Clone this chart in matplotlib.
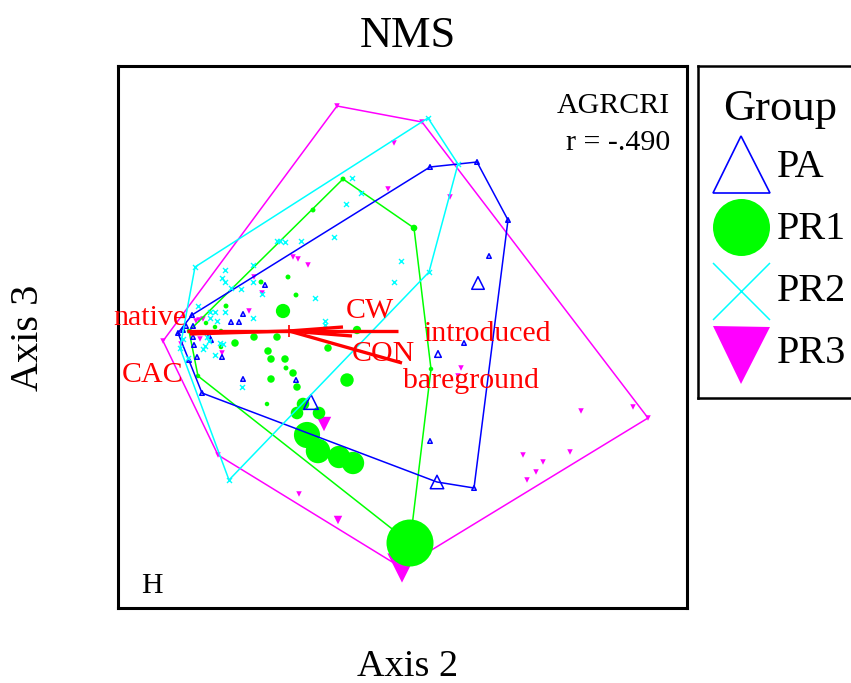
import numpy as np
import matplotlib
matplotlib.use("Agg")
import matplotlib.pyplot as plt

plt.rcParams['font.family'] = ['Liberation Serif', 'DejaVu Serif']

# ---- NMS scores (Axis 2, Axis 3) by group; agr = AGRCRI cover (sets marker size)
pa_x = [0.77, 0.30, 1.08, 0.74, 0.37, -1.98, -2.22, -2.08, 0.78, -0.89, 0.38, 0.89,
        0.64, 0.30, -1.35, -1.57, -1.69, -1.61, -2.14, -2.07, -2.17, -2.07, -1.91,
        -1.89, -2.06, -2.03, -2.11, -1.78, -1.57, -1.04]
pa_y = [1.73, 1.68, 1.15, -1.53, -1.47, -0.58, 0.02, 0.20, 0.52, -0.67, -0.19, 0.79,
        -0.08, -1.06, 0.50, 0.21, 0.13, 0.13, 0.09, 0.09, 0.05, -0.02, -0.01,
        -0.05, -0.10, -0.22, -0.25, -0.22, -0.44, -0.45]
pa_agr = [0, 0, 0, 0, 21, 0, 0, 0, 19, 24, 5, 0,
          0, 0, 0, 0, 0, 0, 0, 0, 0, 0, 0,
          0, 0, 0, 0, 0, 0, 0]

pr1_x = [-0.57, -0.87, 0.14, 0.31, 0.10, -2.02, -2.11, -1.12, -1.04, -1.39, -1.74,
         -1.17, -1.85, -1.94, -1.79, -1.79, -1.65, -1.46, -1.23, -1.32, -1.29, -1.15,
         -1.14, -1.07, -1.03, -1.29, -1.33, -0.72, -0.43, -0.53, -1.03, -0.97, -0.81,
         -0.93, -0.82, -0.61, -0.47]
pr1_y = [1.56, 1.25, 1.07, -0.34, -2.08, -0.41, 0.04, 0.58, 0.40, 0.53, 0.29,
         0.24, 0.08, 0.12, 0.04, -0.12, -0.08, -0.02, -0.02, -0.16, -0.24, -0.24,
         -0.33, -0.38, -0.52, -0.44, -0.69, -0.13, 0.05, -0.45, -0.78, -0.69, -0.78,
         -1.00, -1.16, -1.22, -1.28]
pr1_agr = [1, 1, 5, 0, 100, 0, 0, 1, 1, 1, 1,
           23, 0, 0, 0, 0, 7, 7, 7, 7, 7, 7,
           1, 7, 7, 7, 0, 7, 9, 21, 19, 19, 19,
           51, 47, 42, 42]

pr2_x = [0.28, 0.58, 0.29, -1.71, -2.20, -2.05, -0.48, -0.39, -0.54, -0.66, -0.99,
         -1.23, -1.15, -1.20, 0.01, -0.06, -0.85, -1.47, -1.75, -1.78, -1.75, -1.69,
         -1.59, -1.47, -1.38, -2.02, -1.85, -1.90, -1.75, -0.75, -0.75, -1.47, -1.90,
         -1.83, -1.93, -1.91, -1.80, -1.77, -1.95, -1.97, -1.85, -2.17, -2.12, -1.58]
pr2_y = [2.17, 1.71, 0.63, -1.45, -0.13, 0.68, 1.57, 1.42, 1.31, 0.98, 0.94,
         0.94, 0.93, 0.94, 0.74, 0.53, 0.37, 0.70, 0.65, 0.57, 0.53, 0.47,
         0.46, 0.53, 0.41, 0.29, 0.23, 0.23, 0.23, 0.14, 0.10, 0.17, 0.17,
         0.14, -0.02, -0.06, -0.08, -0.09, -0.11, -0.14, -0.20, -0.04, -0.23, -0.52]

pr3_x = [-0.63, 0.22, 2.48, 0.02, -1.82, -2.37, -0.06, 0.50, -0.12, -1.07, -1.02,
         -0.92, -1.46, -1.38, -1.51, -1.97, -2.01, -2.04, -2.00, -1.78, -2.19, -0.76,
         -1.01, -0.62, 0.61, 0.58, 1.81, 2.33, 1.23, 1.43, 1.36, 1.27, 1.70]
pr3_y = [2.29, 2.13, -0.83, -2.33, -1.20, -0.06, 1.92, 1.38, 1.46, 0.78, 0.76,
         0.70, 0.58, 0.42, 0.24, 0.16, 0.15, 0.14, -0.04, -0.18, -0.09, -0.89,
         -1.59, -1.85, -0.33, -0.41, -0.76, -0.72, -1.20, -1.27, -1.37, -1.45, -1.17]
pr3_agr = [0, 0, 0, 56, 0, 0, 0, 0, 0, 0, 0,
           0, 0, 0, 0, 0, 0, 0, 0, 0, 0, 21,
           0, 7, 0, 0, 0, 0, 0, 0, 0, 0, 0]

# ---- joint-plot vectors (from the centroid)
centroid = (-1.11, 0.04)
vec_names = ['native', 'CAC', 'CW', 'CON', 'introduced', 'bareground']
vec_x = [-2.13, -2.10, -0.57, -0.48, -0.02, 0.02]
vec_y = [0.04, 0.01, 0.08, -0.01, 0.04, -0.28]

groups = ['PA', 'PR1', 'PR2', 'PR3']
colors = {'PA': '#0000ff', 'PR1': '#00ff00', 'PR2': '#00ffff', 'PR3': '#ff00ff'}
RED = '#ff0000'


def marker_area(agr, base=4.5):
    """Marker area (pt^2) from AGRCRI cover: small minimum, ~47 px at 100."""
    d_px = base + 0.425 * np.asarray(agr, dtype=float)
    return (d_px * 0.72) ** 2


def convex_hull(xs, ys):
    pts = sorted(set(zip(xs, ys)))

    def cross(o, a, b):
        return (a[0] - o[0]) * (b[1] - o[1]) - (a[1] - o[1]) * (b[0] - o[0])

    lower, upper = [], []
    for p in pts:
        while len(lower) >= 2 and cross(lower[-2], lower[-1], p) <= 0:
            lower.pop()
        lower.append(p)
    for p in reversed(pts):
        while len(upper) >= 2 and cross(upper[-2], upper[-1], p) <= 0:
            upper.pop()
        upper.append(p)
    hull = lower[:-1] + upper[:-1]
    hull.append(hull[0])
    return np.array(hull)


fig = plt.figure(figsize=(8.51, 6.83), dpi=100)
ax = fig.add_axes([117.5 / 851, 75.5 / 683, 569 / 851, 542 / 683])
ax.set_xlim(-2.825, 2.865)
ax.set_ylim(-2.725, 2.695)
ax.set_xticks([])
ax.set_yticks([])
for sp in ax.spines.values():
    sp.set_linewidth(2.2)

hull_lw = 1.1

# PR3: filled down-triangles
ax.scatter(pr3_x, pr3_y, s=marker_area(pr3_agr, 5.5), marker='v', color=colors['PR3'],
           linewidths=0, zorder=2)
h = convex_hull(pr3_x, pr3_y)
ax.plot(h[:, 0], h[:, 1], color=colors['PR3'], lw=hull_lw, zorder=2.1)

# PR1: filled circles
ax.scatter(pr1_x, pr1_y, s=marker_area(pr1_agr), marker='o', color=colors['PR1'],
           linewidths=0, zorder=3)
h = convex_hull(pr1_x, pr1_y)
ax.plot(h[:, 0], h[:, 1], color=colors['PR1'], lw=hull_lw, zorder=3.1)

# PA: open up-triangles
ax.scatter(pa_x, pa_y, s=marker_area(pa_agr), marker='^', facecolors='none',
           edgecolors=colors['PA'], linewidths=1.1, zorder=4)
h = convex_hull(pa_x, pa_y)
ax.plot(h[:, 0], h[:, 1], color=colors['PA'], lw=hull_lw, zorder=4.1)

# PR2: crosses
ax.scatter(pr2_x, pr2_y, s=(5 * 0.72) ** 2, marker='x', color=colors['PR2'],
           linewidths=1.0, zorder=5)
h = convex_hull(pr2_x, pr2_y)
ax.plot(h[:, 0], h[:, 1], color=colors['PR2'], lw=hull_lw, zorder=5.1)

# vectors
for vx, vy in zip(vec_x, vec_y):
    ax.plot([centroid[0], vx], [centroid[1], vy], color=RED, lw=2.4,
            solid_capstyle='butt', zorder=6)
ax.plot([centroid[0]], [centroid[1]], marker='+', ms=9, mew=1.2, color=RED, zorder=6)

lab_fs = 21.5
vec_labels = {
    'native': (-2.14, 0.10, 'right'),
    'CAC': (-2.47, -0.47, 'center'),
    'CW': (-0.30, 0.17, 'center'),
    'CON': (-0.48, -0.26, 'left'),
    'introduced': (0.23, -0.06, 'left'),
    'bareground': (0.03, -0.53, 'left'),
}
for name in vec_names:
    tx, ty, ha = vec_labels[name]
    ax.text(tx, ty, name, color=RED, fontsize=lab_fs, ha=ha, va='baseline', zorder=7)

ax.text(0.971, 0.912, 'AGRCRI', transform=ax.transAxes, ha='right', va='baseline',
        fontsize=lab_fs)
ax.text(0.971, 0.844, 'r = -.490', transform=ax.transAxes, ha='right', va='baseline',
        fontsize=lab_fs)
ax.text(0.041, 0.027, 'H', transform=ax.transAxes, ha='left', va='baseline',
        fontsize=lab_fs)

# titles
fig.text(408 / 851, 1 - 47 / 683, 'NMS', ha='center', va='baseline', fontsize=32)
fig.text(408 / 851, 1 - 676 / 683, 'Axis 2', ha='center', va='baseline', fontsize=27.5)
fig.text(29 / 851, 1 - 338 / 683, 'Axis 3', ha='center', va='center', rotation=90,
         fontsize=29)

# legend box
lax = fig.add_axes([698 / 851, (683 - 398) / 683, 200 / 851, 332 / 683])
lax.set_xlim(0, 200)
lax.set_ylim(332, 0)
lax.set_xticks([])
lax.set_yticks([])
for sp in lax.spines.values():
    sp.set_linewidth(1.8)
lax.text(82, 54, 'Group', ha='center', va='baseline', fontsize=32)
key_y = [97.5, 160.5, 225, 289]
lab_y = [111, 173, 235, 297]
key_ms = 57 * 0.72
for g, ky, ly in zip(groups, key_y, lab_y):
    if g == 'PA':
        lax.plot([43], [ky], marker='^', ms=key_ms, mfc='none', mec=colors[g], mew=1.2)
    elif g == 'PR1':
        lax.plot([43], [ky], marker='o', ms=key_ms, color=colors[g], mew=0)
    elif g == 'PR2':
        lax.plot([43], [ky], marker='x', ms=key_ms, color=colors[g], mew=1.1)
    else:
        lax.plot([43], [ky], marker='v', ms=key_ms, color=colors[g], mew=0)
    lax.text(79, ly, g, ha='left', va='baseline', fontsize=29)

fig.savefig('out.png', dpi=100)
